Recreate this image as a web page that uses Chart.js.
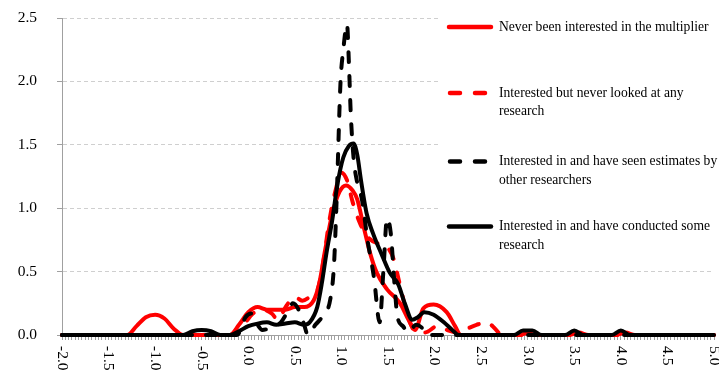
<!DOCTYPE html>
<html>
<head>
<meta charset="utf-8">
<script src="https://cdn.jsdelivr.net/npm/chart.js@4"></script>
<style>
  html, body { margin: 0; padding: 0; background: #fff; }
  #wrap { width: 719px; height: 378px; }
</style>
</head>
<body>
<div id="wrap"><canvas id="c" width="719" height="378"></canvas></div>
<script>
// Density of multiplier estimates by respondent group

const seriesLabels = [
  'Never been interested in the multiplier',
  'Interested but never looked at any research',
  'Interested in and have seen estimates by other researchers',
  'Interested in and have conducted some research'
];

// Never been interested (red, solid)
const neverX = [-2.0, -1.3, -1.2, -1.1, -1.0, -0.9, -0.8, -0.7, -0.2, -0.1, 0.0, 0.1, 0.2, 0.3, 0.4, 0.5, 0.6, 0.7, 0.76, 0.82, 0.9, 0.98, 1.05, 1.12, 1.17, 1.24, 1.31, 1.38, 1.49, 1.63, 1.72, 1.79, 1.88, 1.99, 2.13, 2.22, 2.28, 2.9, 3.0, 3.1, 3.45, 3.55, 3.65, 3.95, 4.05, 4.15, 5.0];
const neverY = [0, 0, 0.07, 0.14, 0.16, 0.13, 0.05, 0, 0, 0.08, 0.18, 0.22, 0.2, 0.2, 0.2, 0.22, 0.22, 0.27, 0.4, 0.65, 0.95, 1.13, 1.18, 1.14, 1.07, 0.85, 0.64, 0.49, 0.36, 0.25, 0.12, 0.04, 0.21, 0.24, 0.18, 0.07, 0, 0, 0.015, 0, 0, 0.02, 0, 0, 0.02, 0, 0];

// Interested, never looked at research (red, dashed)
const lookedX = [-2.0, -0.15, -0.05, 0.05, 0.15, 0.25, 0.32, 0.4, 0.5, 0.58, 0.66, 0.74, 0.8, 0.87, 0.94, 1.0, 1.06, 1.12, 1.2, 1.3, 1.4, 1.48, 1.56, 1.62, 1.7, 1.78, 1.9, 2.03, 2.13, 2.25, 2.35, 2.45, 2.56, 2.65, 2.72, 5.0];
const lookedY = [0, 0, 0.08, 0.17, 0.2, 0.17, 0.12, 0.22, 0.3, 0.27, 0.3, 0.35, 0.55, 0.9, 1.15, 1.28, 1.22, 1.05, 0.88, 0.76, 0.72, 0.7, 0.6, 0.42, 0.18, 0.04, 0.02, 0.07, 0.04, 0.02, 0.05, 0.08, 0.1, 0.05, 0, 0];

// Seen estimates by other researchers (black, dashed)
const seenX = [-2.0, -0.12, -0.03, 0.03, 0.1, 0.15, 0.25, 0.35, 0.42, 0.48, 0.54, 0.6, 0.64, 0.72, 0.8, 0.88, 0.92, 0.95, 0.99, 1.02, 1.06, 1.08, 1.1, 1.13, 1.17, 1.22, 1.28, 1.35, 1.41, 1.45, 1.49, 1.53, 1.57, 1.6, 1.66, 1.72, 1.8, 1.86, 1.92, 5.0];
const seenY = [0, 0, 0.14, 0.17, 0.08, 0.04, 0.06, 0.1, 0.18, 0.25, 0.2, 0.08, 0, 0.08, 0.15, 0.28, 0.55, 1.1, 1.99, 2.25, 2.45, 2.15, 1.75, 1.4, 1.2, 1.07, 0.75, 0.45, 0.1, 0.5, 0.92, 0.8, 0.4, 0.15, 0.07, 0.02, 0.08, 0.06, 0, 0];

// Conducted some research (black, solid)
const conductedX = [-2.0, -0.7, -0.6, -0.5, -0.4, -0.3, -0.2, -0.1, 0.0, 0.1, 0.2, 0.3, 0.4, 0.5, 0.6, 0.66, 0.74, 0.79, 0.84, 0.9, 0.96, 1.02, 1.08, 1.13, 1.17, 1.21, 1.27, 1.34, 1.43, 1.52, 1.61, 1.68, 1.76, 1.82, 1.89, 1.99, 2.1, 2.19, 2.26, 2.85, 2.95, 3.05, 3.15, 3.4, 3.5, 3.6, 3.9, 4.0, 4.1, 5.0];
const conductedY = [0, 0, 0.03, 0.04, 0.03, 0, 0, 0.03, 0.07, 0.09, 0.1, 0.08, 0.09, 0.1, 0.08, 0.1, 0.22, 0.41, 0.65, 0.9, 1.2, 1.4, 1.49, 1.51, 1.42, 1.22, 0.96, 0.8, 0.64, 0.49, 0.4, 0.25, 0.12, 0.14, 0.18, 0.16, 0.1, 0.04, 0, 0, 0.035, 0.035, 0, 0, 0.035, 0, 0, 0.035, 0, 0];

// Axis labels
const xTickLabels = [-2.0, -1.5, -1.0, -0.5, 0.0, 0.5, 1.0, 1.5, 2.0, 2.5, 3.0, 3.5, 4.0, 4.5, 5.0];
const yTickLabels = [0.0, 0.5, 1.0, 1.5, 2.0, 2.5];

const RED = '#FF0000';
const BLACK = '#000000';
const SERIF = '"Liberation Serif", "Times New Roman", serif';
const DASH = [10, 14];

function pts(xs, ys) { return xs.map((x, i) => ({ x: x, y: ys[i] })); }

function lineSet(label, xs, ys, color, dashed, order) {
  return {
    label: label,
    data: pts(xs, ys),
    borderColor: color,
    backgroundColor: color,
    borderWidth: 4,
    borderDash: dashed ? DASH : [],
    borderCapStyle: 'round',
    borderJoinStyle: 'round',
    pointRadius: 0,
    pointHoverRadius: 0,
    cubicInterpolationMode: 'monotone',
    fill: false,
    clip: false,
    order: order,
    _dashed: dashed
  };
}

// minor ticks: 14 per half unit along the x axis
const xMinorStep = 0.5 / 14;

const overlay = {
  id: 'overlay',
  beforeDatasetsDraw(chart) {
    const ctx = chart.ctx;
    ctx.save();
    ctx.fillStyle = '#ffffff';
    ctx.fillRect(440, 0, chart.width - 440, 262);
    ctx.restore();
  },
  afterDraw(chart) {
    const ctx = chart.ctx;
    const xs = chart.scales.x;
    // rotated x tick labels
    ctx.save();
    ctx.font = '15.5px ' + SERIF;
    ctx.fillStyle = '#000';
    ctx.textAlign = 'left';
    ctx.textBaseline = 'middle';
    xTickLabels.forEach(v => {
      const px = xs.getPixelForValue(v);
      ctx.save();
      ctx.translate(px, chart.chartArea.bottom + 11);
      ctx.rotate(Math.PI / 2);
      ctx.fillText(v.toFixed(1), 0, 0);
      ctx.restore();
    });
    ctx.restore();

    // legend
    const rows = [27, 93, 161.5, 226.5];
    const lineGap = 18.5;
    const textX = 499;
    const maxW = chart.width - textX - 1;
    ctx.save();
    ctx.font = '13.6px ' + SERIF;
    ctx.textAlign = 'left';
    ctx.textBaseline = 'middle';
    chart.data.datasets.forEach((ds, i) => {
      const y = rows[i];
      ctx.save();
      ctx.strokeStyle = ds.borderColor;
      ctx.lineWidth = 4.5;
      ctx.lineCap = 'round';
      ctx.setLineDash(ds._dashed ? [10, 15] : []);
      ctx.beginPath();
      ctx.moveTo(ds._dashed ? 450 : 449, y);
      ctx.lineTo(ds._dashed ? 487 : 491, y);
      ctx.stroke();
      ctx.restore();
      // wrap label text
      const words = ds.label.split(' ');
      const lines = [];
      let cur = '';
      words.forEach(w => {
        const test = cur ? cur + ' ' + w : w;
        if (ctx.measureText(test).width > maxW && cur) { lines.push(cur); cur = w; }
        else cur = test;
      });
      if (cur) lines.push(cur);
      ctx.fillStyle = '#000';
      lines.forEach((ln, k) => ctx.fillText(ln, textX, y + k * lineGap));
    });
    ctx.restore();
  }
};

new Chart(document.getElementById('c'), {
  type: 'line',
  data: {
    datasets: [
      lineSet(seriesLabels[0], neverX, neverY, RED, false, 3),
      lineSet(seriesLabels[1], lookedX, lookedY, RED, true, 2),
      lineSet(seriesLabels[2], seenX, seenY, BLACK, true, 1),
      lineSet(seriesLabels[3], conductedX, conductedY, BLACK, false, 0)
    ]
  },
  options: {
    responsive: false,
    animation: false,
    devicePixelRatio: 1,
    layout: { padding: { top: 18, right: 5, left: 0, bottom: 0 } },
    plugins: { legend: { display: false }, tooltip: { enabled: false } },
    scales: {
      x: {
        type: 'linear',
        min: -2,
        max: 5,
        afterBuildTicks(scale) {
          const t = [];
          for (let i = 0; i <= 196; i++) t.push({ value: -2 + i * xMinorStep });
          scale.ticks = t;
        },
        afterFit(scale) { scale.height = 43; },
        ticks: { display: false },
        grid: {
          display: true,
          drawOnChartArea: false,
          drawTicks: true,
          tickLength: 5,
          tickColor: '#a0a0a0',
          tickWidth: 1
        },
        border: { display: true, color: '#a0a0a0', width: 1 }
      },
      y: {
        min: 0,
        max: 2.5,
        afterBuildTicks(scale) {
          scale.ticks = yTickLabels.map(v => ({ value: v }));
        },
        afterFit(scale) {
          scale.width = 62;
          scale.paddingTop = 0;
          scale.paddingBottom = 0;
        },
        ticks: {
          font: { family: SERIF, size: 15.5 },
          color: '#000',
          padding: 20,
          callback: v => Number(v).toFixed(1)
        },
        grid: {
          color: '#cfcfcf',
          lineWidth: 1,
          drawTicks: true,
          tickLength: 5,
          tickColor: '#a0a0a0',
          tickBorderDash: []
        },
        border: { display: true, color: '#a0a0a0', width: 1, dash: [4, 3] }
      }
    }
  },
  plugins: [overlay]
});
</script>
</body>
</html>
